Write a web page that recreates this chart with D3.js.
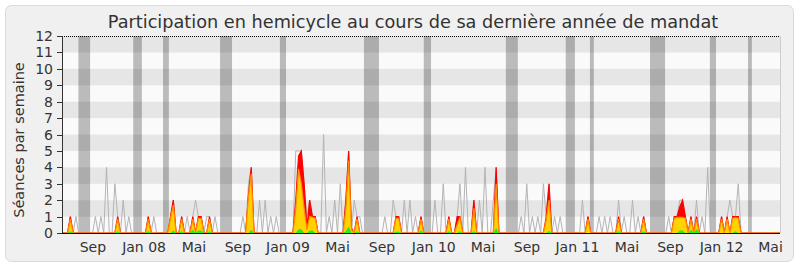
<!DOCTYPE html>
<html><head><meta charset="utf-8">
<script src="https://cdn.jsdelivr.net/npm/d3@7"></script>
<style>html,body{margin:0;padding:0;background:#fff;}svg{display:block;font-family:"DejaVu Sans",sans-serif;}</style>
</head><body>
<svg id="c" width="800" height="267"></svg>
<script>
const title = "Participation en hemicycle au cours de sa dernière année de mandat";
const yTitle = "Séances par semaine";
const yTicks = [0,1,2,3,4,5,6,7,8,9,10,11,12];
const xTickLabels = ["Sep","Jan 08","Mai","Sep","Jan 09","Mai","Sep","Jan 10","Mai","Sep","Jan 11","Mai","Sep","Jan 12","Mai"];
const xTickWeeks  = [11.1,29.5,47.4,63.2,81.2,99,115,133.6,151.3,167.1,185.2,203,218.6,237,254.6];
const vacStart = [5.9,25.6,36.3,56.8,78.3,108.5,130,159.5,181,189.7,211.3,232.8,246.5];
const vacEnd   = [10.1,28.7,38.4,61.1,80.5,113.9,132.6,163.8,184.3,191.1,216.7,235,247.9];
// weekly series, week 0 .. 258
const seances = [
0,0,0,1,0,1,0,0,0,0, 0,0,1,0,1,0,4,0,0,3, 1,0,2,0,1,0,0,0,0,0, 0,1,0,1,0,0,0,0,0,1,
2,0,0,1,0,1,0,1,2,1, 1,0,1,1,0,1,0,0,0,0, 0,0,0,0,0,1,0,3,4,0, 0,2,0,2,0,1,0,1,0,0,
0,0,0,0,5,5,5,3,1,2, 1,1,0,0,6,0,1,0,2,0, 3,0,2,5,0,2,1,1,0,0, 0,0,0,0,0,0,1,0,0,2,
1,1,0,2,0,2,0,1,0,1, 0,0,0,0,2,0,0,3,0,1, 0,0,1,3,0,4,0,0,2,0, 2,0,4,0,0,2,4,0,0,0,
0,0,0,0,0,1,0,3,0,1, 0,1,0,3,1,3,0,1,0,1, 0,0,0,0,0,0,0,2,0,1, 0,0,0,1,0,1,0,1,0,0,
2,0,1,0,0,2,0,1,0,1, 0,0,0,0,0,0,0,0,1,0, 1,1,2,2,1,0,1,0,2,0, 1,0,4,0,0,0,0,1,0,1,
2,1,1,3,0,0,0,0,0,0, 0,0,0,0,0,0,0,0,0];
const presences = [
0,0,0,1,0,0,0,0,0,0, 0,0,0,0,0,0,0,0,0,0, 1,0,0,0,0,0,0,0,0,0, 0,1,0,0,0,0,0,0,0,1,
2,0,0,1,0,0,0,1,0,1, 1,0,0,1,0,0,0,0,0,0, 0,0,0,0,0,0,0,2.3,4,0, 0,0,0,0,0,0,0,0,0,0,
0,0,0,0,2,4.7,5,3,0.3,2, 1,1,0,0,0,0,0,0,0,0, 0,0,2,5,0.3,0,1,0,0,0, 0,0,0,0,0,0,0,0,0,0,
1,1,0,0,0,0,0,0,0,1, 0,0,0,0,0,0,0,0,0,1, 0,0,1,1,0,0,0,0,2,0, 0,0,0,0,0,0,4,0,0,0,
0,0,0,0,0,0,0,0,0,0, 0,0,0,0,1,3,0,0,0,0, 0,0,0,0,0,0,0,0,0,1, 0,0,0,0,0,0,0,0,0,0,
1,0,0,0,0,0,0,0,0,1, 0,0,0,0,0,0,0,0,0,0, 1,1,1.6,2,1,0,1,0,1,0, 0,0,0,0,0,0,0,1,0,1,
0,1,1,1,0,0,0,0,0,0, 0,0,0,0,0,0,0,0,0];
const interventions = [
0,0,0,0.85,0,0,0,0,0,0, 0,0,0,0,0,0,0,0,0,0, 0.85,0,0,0,0,0,0,0,0,0, 0,0.85,0,0,0,0,0,0,0,0.9,
1.7,0,0,0.85,0,0,0,0.85,0,0.9, 0.9,0,0,0.85,0,0,0,0,0,0, 0,0,0,0,0,0,0,2.2,3.6,0, 0,0,0,0,0,0,0,0,0,0,
0,0,0,0,1.5,3.9,3,1.5,0.2,1, 0.95,0.9,0,0,0,0,0,0,0,0, 0,0,1.5,4.4,0.2,0,0.85,0,0,0, 0,0,0,0,0,0,0,0,0,0,
0.9,0.9,0,0,0,0,0,0,0,0.85, 0,0,0,0,0,0,0,0,0,0.85, 0,0,0.5,0.95,0,0,0,0,1.5,0, 0,0,0,0,0,0,3,0,0,0,
0,0,0,0,0,0,0,0,0,0, 0,0,0,0,0.8,2,0,0,0,0, 0,0,0,0,0,0,0,0,0,0.85, 0,0,0,0,0,0,0,0,0,0,
0.85,0,0,0,0,0,0,0,0,0.85, 0,0,0,0,0,0,0,0,0,0, 0.9,0.95,0.95,0.95,0.9,0,0.85,0,0.85,0, 0,0,0,0,0,0,0,0.85,0,0.85,
0,0.9,0.95,0.9,0,0,0,0,0,0, 0,0,0,0,0,0,0,0,0];
const questions = [
0,0,0,0.1,0,0,0,0,0,0, 0,0,0,0,0,0,0,0,0,0, 0.1,0,0,0,0,0,0,0,0,0, 0,0.1,0,0,0,0,0,0,0,0,
0.15,0,0,0.1,0,0,0,0.2,0,0.15, 0.15,0,0,0.1,0,0,0,0,0,0, 0,0,0,0,0,0,0,0,0.2,0, 0,0,0,0,0,0,0,0,0,0,
0,0,0,0,0,0.22,0.25,0,0,0.15, 0.15,0,0,0,0,0,0,0,0,0, 0,0,0.1,0.4,0,0,0.1,0,0,0, 0,0,0,0,0,0,0,0,0,0,
0.08,0.08,0,0,0,0,0,0,0,0.15, 0,0,0,0,0,0,0,0,0,0.1, 0,0,0,0.1,0,0,0,0,0.1,0, 0,0,0,0,0,0,0.3,0,0,0,
0,0,0,0,0,0,0,0,0,0, 0,0,0,0,0,0.12,0,0,0,0, 0,0,0,0,0,0,0,0,0,0, 0,0,0,0,0,0,0,0,0,0,
0.1,0,0,0,0,0,0,0,0,0.1, 0,0,0,0,0,0,0,0,0,0, 0,0,0.15,0.15,0,0,0.2,0,0.25,0, 0,0,0,0,0,0,0,0,0,0,
0,0,0.1,0,0,0,0,0,0,0, 0,0,0,0,0,0,0,0,0];

const svg = d3.select("#c");
const x = d3.scaleLinear().domain([0, seances.length-1]).range([62, 780]);
const y = d3.scaleLinear().domain([0, 12]).range([233, 36]);

// panel
svg.append("rect").attr("x",5.5).attr("y",5.5).attr("width",788).attr("height",256)
  .attr("rx",6).attr("fill","#f0f0f0").attr("stroke","#dadada");

// bands
for (let v = 0; v < 12; v++) {
  svg.append("rect").attr("x", x(0)).attr("width", x(seances.length-1)-x(0))
    .attr("y", y(v+1)).attr("height", y(v)-y(v+1))
    .attr("fill", v % 2 === 1 ? "#e6e6e6" : "#fafafa");
}
// vacation bars
svg.selectAll(".vac").data(vacStart).enter().append("rect")
  .attr("x", (d)=>x(d)).attr("width", (d,i)=>x(vacEnd[i])-x(d))
  .attr("y", y(12)).attr("height", y(0)-y(12))
  .attr("fill","#000").attr("fill-opacity",0.25);

const idx = d3.range(seances.length);
const line = (arr)=> d3.line().x(i=>x(i)).y(i=>y(arr[i]))(idx);
const area = (arr)=> d3.area().x(i=>x(i)).y0(y(0)).y1(i=>y(arr[i]))(idx);

svg.append("path").attr("d", line(seances)).attr("fill","none").attr("stroke","#b4b4b4").attr("stroke-width",1);
svg.append("path").attr("d", area(presences)).attr("fill","#ff0000");
svg.append("path").attr("d", line(presences)).attr("fill","none").attr("stroke","#ff0000").attr("stroke-width",1.2);
svg.append("path").attr("d", area(interventions)).attr("fill","#ffd200");
svg.append("path").attr("d", line(interventions)).attr("fill","none").attr("stroke","#ff8c00").attr("stroke-width",1.2);
svg.append("path").attr("d", area(questions)).attr("fill","#22ee22");

// right border and top dotted
svg.append("line").attr("x1",x(seances.length-1)+0.5).attr("x2",x(seances.length-1)+0.5)
  .attr("y1",y(12)).attr("y2",y(0)).attr("stroke","#cccccc");
svg.append("line").attr("x1",x(0)).attr("x2",x(seances.length-1)).attr("y1",y(12)+0.5).attr("y2",y(12)+0.5)
  .attr("stroke","#000").attr("stroke-dasharray","1,1");

// axes
svg.append("line").attr("x1",x(0)+0.5).attr("x2",x(0)+0.5).attr("y1",y(12)).attr("y2",y(0)).attr("stroke","#333");
svg.append("line").attr("x1",x(0)).attr("x2",x(seances.length-1)).attr("y1",y(0)+0.5).attr("y2",y(0)+0.5).attr("stroke","#2a0000");
yTicks.forEach(v=>{
  svg.append("line").attr("x1",57).attr("x2",62).attr("y1",Math.round(y(v))+0.5).attr("y2",Math.round(y(v))+0.5).attr("stroke","#333");
  svg.append("text").attr("x",53).attr("y",y(v)).attr("dy","0.36em").attr("text-anchor","end")
    .attr("font-size",14).attr("fill","#333").text(v);
});
xTickLabels.forEach((t,i)=>{
  svg.append("text").attr("x",x(xTickWeeks[i])).attr("y",251.5).attr("text-anchor","middle")
    .attr("font-size",14).attr("fill","#333").text(t);
});
svg.append("text").attr("transform","translate(24,140) rotate(-90)").attr("text-anchor","middle")
  .attr("font-size",14.5).attr("fill","#333").text(yTitle);
svg.append("text").attr("x",413).attr("y",28).attr("text-anchor","middle")
  .attr("font-size",17.7).attr("fill","#333").text(title);
</script>
</body></html>
